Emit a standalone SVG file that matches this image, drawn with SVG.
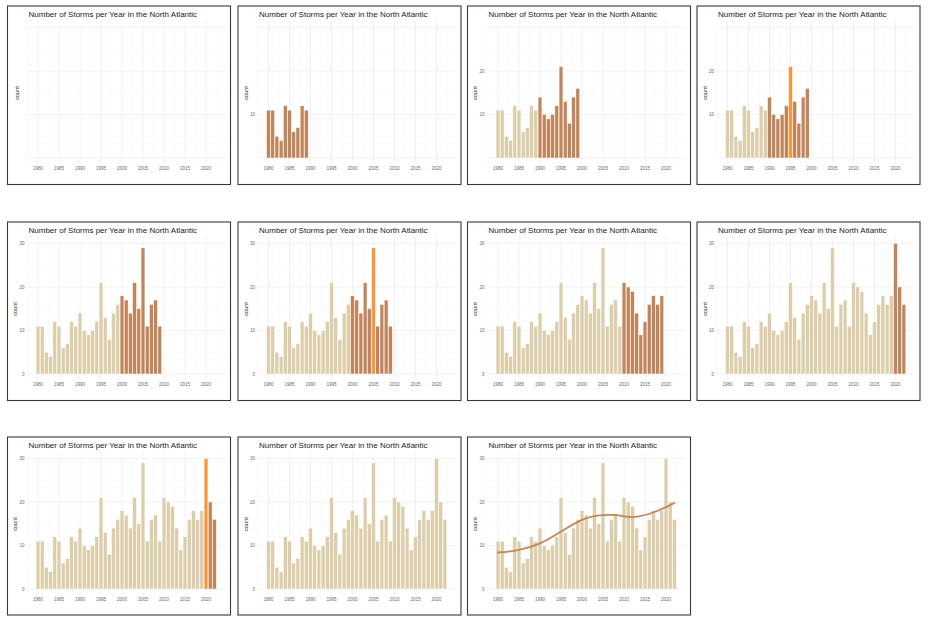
<svg xmlns="http://www.w3.org/2000/svg" xmlns:xlink="http://www.w3.org/1999/xlink" width="928" height="624" viewBox="0 0 928 624">
<style>
.frame{fill:#fff;stroke:#383838;stroke-width:1.1}
.t{font-family:"Liberation Sans",Arial,sans-serif;font-size:8px;fill:#1a1a1a}
.ax{font-family:"Liberation Sans",Arial,sans-serif;font-size:4.6px;fill:#6a6a6a;text-anchor:middle}
.ay{font-family:"Liberation Sans",Arial,sans-serif;font-size:4.6px;fill:#6a6a6a;text-anchor:end}
.yl{font-family:"Liberation Sans",Arial,sans-serif;font-size:5.6px;fill:#222;text-anchor:middle}
.l{fill:#dccdab}
.d{fill:#c1855b}
.o{fill:#f7963a}
.sm{fill:none;stroke:#c6855a;stroke-width:1.8;stroke-linecap:round}
</style>
<defs>
<g id="grid" fill="none">
<path stroke="#f3f3f3" stroke-width="0.4" d="M20 15V158.5M41 15V158.5M62 15V158.5M83 15V158.5M104 15V158.5M125 15V158.5M146 15V158.5M167 15V158.5M188 15V158.5M209 15V158.5M19.6 130.25H217.8M19.6 86.75H217.8M19.6 43.25H217.8"/>
<path stroke="#e8e8e8" stroke-width="0.55" d="M30.5 15V158.5M51.5 15V158.5M72.5 15V158.5M93.5 15V158.5M114.5 15V158.5M135.5 15V158.5M156.5 15V158.5M177.5 15V158.5M198.5 15V158.5M19.6 152H217.8M19.6 108.5H217.8M19.6 65H217.8M19.6 21.5H217.8"/>
</g>
<g id="b80" stroke="#fff" stroke-width="0.45">
<rect x="28.6" y="104.15" width="3.8" height="47.85"/>
<rect x="32.8" y="104.15" width="3.8" height="47.85"/>
<rect x="37" y="130.25" width="3.8" height="21.75"/>
<rect x="41.2" y="134.6" width="3.8" height="17.4"/>
<rect x="45.4" y="99.8" width="3.8" height="52.2"/>
<rect x="49.6" y="104.15" width="3.8" height="47.85"/>
<rect x="53.8" y="125.9" width="3.8" height="26.1"/>
<rect x="58" y="121.55" width="3.8" height="30.45"/>
<rect x="62.2" y="99.8" width="3.8" height="52.2"/>
<rect x="66.4" y="104.15" width="3.8" height="47.85"/>
</g>
<g id="b90" stroke="#fff" stroke-width="0.45">
<rect x="70.6" y="91.1" width="3.8" height="60.9"/>
<rect x="74.8" y="108.5" width="3.8" height="43.5"/>
<rect x="79" y="112.85" width="3.8" height="39.15"/>
<rect x="83.2" y="108.5" width="3.8" height="43.5"/>
<rect x="87.4" y="99.8" width="3.8" height="52.2"/>
<rect x="95.8" y="95.45" width="3.8" height="56.55"/>
<rect x="100" y="117.2" width="3.8" height="34.8"/>
<rect x="104.2" y="91.1" width="3.8" height="60.9"/>
<rect x="108.4" y="82.4" width="3.8" height="69.6"/>
</g>
<g id="b95" stroke="#fff" stroke-width="0.45">
<rect x="91.6" y="60.65" width="3.8" height="91.35"/>
</g>
<g id="b00" stroke="#fff" stroke-width="0.45">
<rect x="112.6" y="73.7" width="3.8" height="78.3"/>
<rect x="116.8" y="78.05" width="3.8" height="73.95"/>
<rect x="121" y="91.1" width="3.8" height="60.9"/>
<rect x="125.2" y="60.65" width="3.8" height="91.35"/>
<rect x="129.4" y="86.75" width="3.8" height="65.25"/>
<rect x="137.8" y="104.15" width="3.8" height="47.85"/>
<rect x="142" y="82.4" width="3.8" height="69.6"/>
<rect x="146.2" y="78.05" width="3.8" height="73.95"/>
<rect x="150.4" y="104.15" width="3.8" height="47.85"/>
</g>
<g id="b05" stroke="#fff" stroke-width="0.45">
<rect x="133.6" y="25.85" width="3.8" height="126.15"/>
</g>
<g id="b10" stroke="#fff" stroke-width="0.45">
<rect x="154.6" y="60.65" width="3.8" height="91.35"/>
<rect x="158.8" y="65" width="3.8" height="87"/>
<rect x="163" y="69.35" width="3.8" height="82.65"/>
<rect x="167.2" y="91.1" width="3.8" height="60.9"/>
<rect x="171.4" y="112.85" width="3.8" height="39.15"/>
<rect x="175.6" y="99.8" width="3.8" height="52.2"/>
<rect x="179.8" y="82.4" width="3.8" height="69.6"/>
<rect x="184" y="73.7" width="3.8" height="78.3"/>
<rect x="188.2" y="82.4" width="3.8" height="69.6"/>
<rect x="192.4" y="73.7" width="3.8" height="78.3"/>
</g>
<g id="b20" stroke="#fff" stroke-width="0.45">
<rect x="196.6" y="21.5" width="3.8" height="130.5"/>
</g>
<g id="b21" stroke="#fff" stroke-width="0.45">
<rect x="200.8" y="65" width="3.8" height="87"/>
<rect x="205" y="82.4" width="3.8" height="69.6"/>
</g>
</defs>

<g id="p1" transform="translate(7.5,6)">
<rect class="frame" x="0" y="0" width="223" height="178.5"/>
<use xlink:href="#grid" href="#grid"/>
<text class="t" x="21" y="11">Number of Storms per Year in the North Atlantic</text>
<text class="yl" transform="translate(11.5,87) rotate(-90)">count</text>
<text class="ax" x="30.5" y="164">1980</text><text class="ax" x="51.5" y="164">1985</text><text class="ax" x="72.5" y="164">1990</text><text class="ax" x="93.5" y="164">1995</text><text class="ax" x="114.5" y="164">2000</text><text class="ax" x="135.5" y="164">2005</text><text class="ax" x="156.5" y="164">2010</text><text class="ax" x="177.5" y="164">2015</text><text class="ax" x="198.5" y="164">2020</text>
</g>

<g id="p2" transform="translate(238,6)">
<rect class="frame" x="0" y="0" width="223" height="178.5"/>
<use xlink:href="#grid" href="#grid"/>
<use xlink:href="#b80" href="#b80" class="d"/>
<text class="t" x="21" y="11">Number of Storms per Year in the North Atlantic</text>
<text class="yl" transform="translate(9.5,87) rotate(-90)">count</text>
<text class="ay" x="17" y="110.1">10</text>
<text class="ax" x="30.5" y="164">1980</text><text class="ax" x="51.5" y="164">1985</text><text class="ax" x="72.5" y="164">1990</text><text class="ax" x="93.5" y="164">1995</text><text class="ax" x="114.5" y="164">2000</text><text class="ax" x="135.5" y="164">2005</text><text class="ax" x="156.5" y="164">2010</text><text class="ax" x="177.5" y="164">2015</text><text class="ax" x="198.5" y="164">2020</text>
</g>

<g id="p3" transform="translate(467.5,6)">
<rect class="frame" x="0" y="0" width="223" height="178.5"/>
<use xlink:href="#grid" href="#grid"/>
<use xlink:href="#b80" href="#b80" class="l"/>
<use xlink:href="#b90" href="#b90" class="d"/>
<use xlink:href="#b95" href="#b95" class="d"/>
<text class="t" x="21" y="11">Number of Storms per Year in the North Atlantic</text>
<text class="yl" transform="translate(9.5,87) rotate(-90)">count</text>
<text class="ay" x="17" y="110.1">10</text><text class="ay" x="17" y="66.6">20</text>
<text class="ax" x="30.5" y="164">1980</text><text class="ax" x="51.5" y="164">1985</text><text class="ax" x="72.5" y="164">1990</text><text class="ax" x="93.5" y="164">1995</text><text class="ax" x="114.5" y="164">2000</text><text class="ax" x="135.5" y="164">2005</text><text class="ax" x="156.5" y="164">2010</text><text class="ax" x="177.5" y="164">2015</text><text class="ax" x="198.5" y="164">2020</text>
</g>

<g id="p4" transform="translate(697,6)">
<rect class="frame" x="0" y="0" width="223" height="178.5"/>
<use xlink:href="#grid" href="#grid"/>
<use xlink:href="#b80" href="#b80" class="l"/>
<use xlink:href="#b90" href="#b90" class="d"/>
<use xlink:href="#b95" href="#b95" class="o"/>
<text class="t" x="21" y="11">Number of Storms per Year in the North Atlantic</text>
<text class="yl" transform="translate(9.5,87) rotate(-90)">count</text>
<text class="ay" x="17" y="110.1">10</text><text class="ay" x="17" y="66.6">20</text>
<text class="ax" x="30.5" y="164">1980</text><text class="ax" x="51.5" y="164">1985</text><text class="ax" x="72.5" y="164">1990</text><text class="ax" x="93.5" y="164">1995</text><text class="ax" x="114.5" y="164">2000</text><text class="ax" x="135.5" y="164">2005</text><text class="ax" x="156.5" y="164">2010</text><text class="ax" x="177.5" y="164">2015</text><text class="ax" x="198.5" y="164">2020</text>
</g>

<g id="p5" transform="translate(7.5,222)">
<rect class="frame" x="0" y="0" width="223" height="178.5"/>
<use xlink:href="#grid" href="#grid"/>
<use xlink:href="#b80" href="#b80" class="l"/>
<use xlink:href="#b90" href="#b90" class="l"/>
<use xlink:href="#b95" href="#b95" class="l"/>
<use xlink:href="#b00" href="#b00" class="d"/>
<use xlink:href="#b05" href="#b05" class="d"/>
<text class="t" x="21" y="11">Number of Storms per Year in the North Atlantic</text>
<text class="yl" transform="translate(9.5,87) rotate(-90)">count</text>
<text class="ay" x="17" y="153.6">0</text><text class="ay" x="17" y="110.1">10</text><text class="ay" x="17" y="66.6">20</text><text class="ay" x="17" y="23.1">30</text>
<text class="ax" x="30.5" y="164">1980</text><text class="ax" x="51.5" y="164">1985</text><text class="ax" x="72.5" y="164">1990</text><text class="ax" x="93.5" y="164">1995</text><text class="ax" x="114.5" y="164">2000</text><text class="ax" x="135.5" y="164">2005</text><text class="ax" x="156.5" y="164">2010</text><text class="ax" x="177.5" y="164">2015</text><text class="ax" x="198.5" y="164">2020</text>
</g>

<g id="p6" transform="translate(238,222)">
<rect class="frame" x="0" y="0" width="223" height="178.5"/>
<use xlink:href="#grid" href="#grid"/>
<use xlink:href="#b80" href="#b80" class="l"/>
<use xlink:href="#b90" href="#b90" class="l"/>
<use xlink:href="#b95" href="#b95" class="l"/>
<use xlink:href="#b00" href="#b00" class="d"/>
<use xlink:href="#b05" href="#b05" class="o"/>
<text class="t" x="21" y="11">Number of Storms per Year in the North Atlantic</text>
<text class="yl" transform="translate(9.5,87) rotate(-90)">count</text>
<text class="ay" x="17" y="153.6">0</text><text class="ay" x="17" y="110.1">10</text><text class="ay" x="17" y="66.6">20</text><text class="ay" x="17" y="23.1">30</text>
<text class="ax" x="30.5" y="164">1980</text><text class="ax" x="51.5" y="164">1985</text><text class="ax" x="72.5" y="164">1990</text><text class="ax" x="93.5" y="164">1995</text><text class="ax" x="114.5" y="164">2000</text><text class="ax" x="135.5" y="164">2005</text><text class="ax" x="156.5" y="164">2010</text><text class="ax" x="177.5" y="164">2015</text><text class="ax" x="198.5" y="164">2020</text>
</g>

<g id="p7" transform="translate(467.5,222)">
<rect class="frame" x="0" y="0" width="223" height="178.5"/>
<use xlink:href="#grid" href="#grid"/>
<use xlink:href="#b80" href="#b80" class="l"/>
<use xlink:href="#b90" href="#b90" class="l"/>
<use xlink:href="#b95" href="#b95" class="l"/>
<use xlink:href="#b00" href="#b00" class="l"/>
<use xlink:href="#b05" href="#b05" class="l"/>
<use xlink:href="#b10" href="#b10" class="d"/>
<text class="t" x="21" y="11">Number of Storms per Year in the North Atlantic</text>
<text class="yl" transform="translate(9.5,87) rotate(-90)">count</text>
<text class="ay" x="17" y="153.6">0</text><text class="ay" x="17" y="110.1">10</text><text class="ay" x="17" y="66.6">20</text><text class="ay" x="17" y="23.1">30</text>
<text class="ax" x="30.5" y="164">1980</text><text class="ax" x="51.5" y="164">1985</text><text class="ax" x="72.5" y="164">1990</text><text class="ax" x="93.5" y="164">1995</text><text class="ax" x="114.5" y="164">2000</text><text class="ax" x="135.5" y="164">2005</text><text class="ax" x="156.5" y="164">2010</text><text class="ax" x="177.5" y="164">2015</text><text class="ax" x="198.5" y="164">2020</text>
</g>

<g id="p8" transform="translate(697,222)">
<rect class="frame" x="0" y="0" width="223" height="178.5"/>
<use xlink:href="#grid" href="#grid"/>
<use xlink:href="#b80" href="#b80" class="l"/>
<use xlink:href="#b90" href="#b90" class="l"/>
<use xlink:href="#b95" href="#b95" class="l"/>
<use xlink:href="#b00" href="#b00" class="l"/>
<use xlink:href="#b05" href="#b05" class="l"/>
<use xlink:href="#b10" href="#b10" class="l"/>
<use xlink:href="#b20" href="#b20" class="d"/>
<use xlink:href="#b21" href="#b21" class="d"/>
<text class="t" x="21" y="11">Number of Storms per Year in the North Atlantic</text>
<text class="yl" transform="translate(9.5,87) rotate(-90)">count</text>
<text class="ay" x="17" y="153.6">0</text><text class="ay" x="17" y="110.1">10</text><text class="ay" x="17" y="66.6">20</text><text class="ay" x="17" y="23.1">30</text>
<text class="ax" x="30.5" y="164">1980</text><text class="ax" x="51.5" y="164">1985</text><text class="ax" x="72.5" y="164">1990</text><text class="ax" x="93.5" y="164">1995</text><text class="ax" x="114.5" y="164">2000</text><text class="ax" x="135.5" y="164">2005</text><text class="ax" x="156.5" y="164">2010</text><text class="ax" x="177.5" y="164">2015</text><text class="ax" x="198.5" y="164">2020</text>
</g>

<g id="p9" transform="translate(7.5,437)">
<rect class="frame" x="0" y="0" width="223" height="178"/>
<use xlink:href="#grid" href="#grid"/>
<use xlink:href="#b80" href="#b80" class="l"/>
<use xlink:href="#b90" href="#b90" class="l"/>
<use xlink:href="#b95" href="#b95" class="l"/>
<use xlink:href="#b00" href="#b00" class="l"/>
<use xlink:href="#b05" href="#b05" class="l"/>
<use xlink:href="#b10" href="#b10" class="l"/>
<use xlink:href="#b20" href="#b20" class="o"/>
<use xlink:href="#b21" href="#b21" class="d"/>
<text class="t" x="21" y="11">Number of Storms per Year in the North Atlantic</text>
<text class="yl" transform="translate(9.5,87) rotate(-90)">count</text>
<text class="ay" x="17" y="153.6">0</text><text class="ay" x="17" y="110.1">10</text><text class="ay" x="17" y="66.6">20</text><text class="ay" x="17" y="23.1">30</text>
<text class="ax" x="30.5" y="164">1980</text><text class="ax" x="51.5" y="164">1985</text><text class="ax" x="72.5" y="164">1990</text><text class="ax" x="93.5" y="164">1995</text><text class="ax" x="114.5" y="164">2000</text><text class="ax" x="135.5" y="164">2005</text><text class="ax" x="156.5" y="164">2010</text><text class="ax" x="177.5" y="164">2015</text><text class="ax" x="198.5" y="164">2020</text>
</g>

<g id="p10" transform="translate(238,437)">
<rect class="frame" x="0" y="0" width="223" height="178"/>
<use xlink:href="#grid" href="#grid"/>
<use xlink:href="#b80" href="#b80" class="l"/>
<use xlink:href="#b90" href="#b90" class="l"/>
<use xlink:href="#b95" href="#b95" class="l"/>
<use xlink:href="#b00" href="#b00" class="l"/>
<use xlink:href="#b05" href="#b05" class="l"/>
<use xlink:href="#b10" href="#b10" class="l"/>
<use xlink:href="#b20" href="#b20" class="l"/>
<use xlink:href="#b21" href="#b21" class="l"/>
<text class="t" x="21" y="11">Number of Storms per Year in the North Atlantic</text>
<text class="yl" transform="translate(9.5,87) rotate(-90)">count</text>
<text class="ay" x="17" y="153.6">0</text><text class="ay" x="17" y="110.1">10</text><text class="ay" x="17" y="66.6">20</text><text class="ay" x="17" y="23.1">30</text>
<text class="ax" x="30.5" y="164">1980</text><text class="ax" x="51.5" y="164">1985</text><text class="ax" x="72.5" y="164">1990</text><text class="ax" x="93.5" y="164">1995</text><text class="ax" x="114.5" y="164">2000</text><text class="ax" x="135.5" y="164">2005</text><text class="ax" x="156.5" y="164">2010</text><text class="ax" x="177.5" y="164">2015</text><text class="ax" x="198.5" y="164">2020</text>
</g>

<g id="p11" transform="translate(467.5,437)">
<rect class="frame" x="0" y="0" width="223" height="178"/>
<use xlink:href="#grid" href="#grid"/>
<use xlink:href="#b80" href="#b80" class="l"/>
<use xlink:href="#b90" href="#b90" class="l"/>
<use xlink:href="#b95" href="#b95" class="l"/>
<use xlink:href="#b00" href="#b00" class="l"/>
<use xlink:href="#b05" href="#b05" class="l"/>
<use xlink:href="#b10" href="#b10" class="l"/>
<use xlink:href="#b20" href="#b20" class="l"/>
<use xlink:href="#b21" href="#b21" class="l"/>
<path class="sm" d="M30.5 115.5C37.5 115 44.5 114.3 51.5 112.9C58.5 111.5 65.5 109.3 72.5 106.3C79.5 103.3 86.5 98.8 93.5 94.6C100.5 90.4 107.5 85.8 114.5 82.8C120 80.5 127 78.6 135.5 78.1C141 77.8 145 77.8 148.1 78C152 78.3 155 79.1 158 79.6C162 80.2 166 80.3 170 79.6C177 78.6 184 76.6 190.1 73.8C194 72.3 198 70.7 206.9 65.9"/>
<text class="t" x="21" y="11">Number of Storms per Year in the North Atlantic</text>
<text class="yl" transform="translate(9.5,87) rotate(-90)">count</text>
<text class="ay" x="17" y="153.6">0</text><text class="ay" x="17" y="110.1">10</text><text class="ay" x="17" y="66.6">20</text><text class="ay" x="17" y="23.1">30</text>
<text class="ax" x="30.5" y="164">1980</text><text class="ax" x="51.5" y="164">1985</text><text class="ax" x="72.5" y="164">1990</text><text class="ax" x="93.5" y="164">1995</text><text class="ax" x="114.5" y="164">2000</text><text class="ax" x="135.5" y="164">2005</text><text class="ax" x="156.5" y="164">2010</text><text class="ax" x="177.5" y="164">2015</text><text class="ax" x="198.5" y="164">2020</text>
</g>
</svg>
